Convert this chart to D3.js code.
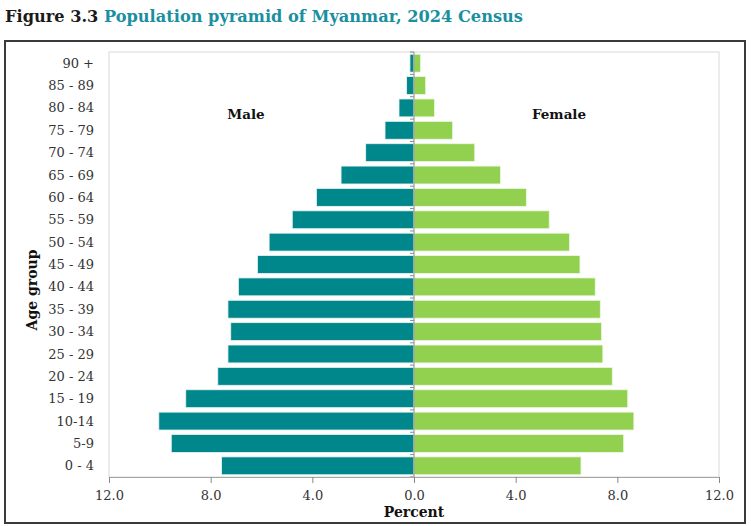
<!DOCTYPE html>
<html><head><meta charset="utf-8">
<script src="https://cdn.jsdelivr.net/npm/d3@7"></script>
<style>body{margin:0;background:#fff}svg{display:block}</style>
</head><body>
<script>
const ageGroups = ["0 - 4","5-9","10-14","15 - 19","20 - 24","25 - 29","30 - 34","35 - 39","40 - 44","45 - 49","50 - 54","55 - 59","60 - 64","65 - 69","70 - 74","75 - 79","80 - 84","85 - 89","90 +"];
const maleValues = [7.57,9.55,10.04,8.98,7.72,7.32,7.21,7.32,6.91,6.16,5.70,4.79,3.84,2.87,1.90,1.14,0.59,0.29,0.16];
const femaleValues = [6.57,8.25,8.65,8.41,7.80,7.43,7.38,7.33,7.13,6.53,6.12,5.32,4.42,3.40,2.39,1.52,0.81,0.46,0.26];
const xTicks = [-12,-8,-4,0,4,8,12];

const W=751,H=526;
const svg=d3.select("body").append("svg").attr("width",W).attr("height",H);
const serif="'DejaVu Serif', serif";

// title
const t=svg.append("text").attr("x",5).attr("y",22).attr("font-family",serif).attr("font-weight","bold").attr("font-size",16.2);
t.append("tspan").attr("fill","#1a1a1a").text("Figure 3.3 ");
t.append("tspan").attr("fill","#1a8fa0").text("Population pyramid of Myanmar, 2024 Census");

// frame
svg.append("rect").attr("x",5).attr("y",41).attr("width",740).attr("height",482).attr("fill","none").attr("stroke","#3a3a3a").attr("stroke-width",2);

const L=109,R=719,T=52,B=477;
const x=d3.scaleLinear().domain([-12,12]).range([L,R]);
const y=d3.scaleBand().domain(ageGroups.slice().reverse()).range([T,B]).paddingInner(0.2).paddingOuter(0.1);

// plot area border
svg.append("rect").attr("x",L).attr("y",T).attr("width",R-L).attr("height",B-T).attr("fill","none").attr("stroke","#d9d9d9");

const g=svg.append("g");
g.selectAll(".m").data(ageGroups).enter().append("rect")
 .attr("x",(d,i)=>x(-maleValues[i])).attr("y",d=>y(d))
 .attr("width",(d,i)=>x(0)-x(-maleValues[i])).attr("height",y.bandwidth())
 .attr("fill","#00878b").attr("stroke","#e8f4f4").attr("stroke-width",0.8);
g.selectAll(".f").data(ageGroups).enter().append("rect")
 .attr("x",x(0)).attr("y",d=>y(d))
 .attr("width",(d,i)=>x(femaleValues[i])-x(0)).attr("height",y.bandwidth())
 .attr("fill","#92d050").attr("stroke","#eef8e4").attr("stroke-width",0.8);

// center axis with ticks at band boundaries
const step=y.step();
const cx=x(0);
svg.append("line").attr("x1",cx).attr("x2",cx).attr("y1",T).attr("y2",B).attr("stroke","#8a8a8a").attr("stroke-width",1);
for(let k=0;k<=ageGroups.length;k++){
  const yy=T+k*step;
  svg.append("line").attr("x1",cx-4).attr("x2",cx).attr("y1",yy).attr("y2",yy).attr("stroke","#8a8a8a");
}

// y labels
svg.selectAll(".yl").data(ageGroups).enter().append("text")
 .attr("x",94).attr("y",d=>y(d)+y.bandwidth()/2).attr("dy","0.35em")
 .attr("text-anchor","end").attr("font-family",serif).attr("font-size",13).attr("fill","#333")
 .text(d=>d);

// x axis
const xa=svg.append("g").attr("transform",`translate(0,${B})`)
 .call(d3.axisBottom(x).tickValues(xTicks).tickSize(6).tickFormat(d=>Math.abs(d).toFixed(1)));
xa.select(".domain").attr("stroke","#a6a6a6");
xa.selectAll(".tick line").attr("stroke","#8a8a8a");
xa.selectAll("text").attr("font-family",serif).attr("font-size",13).attr("fill","#333").attr("dy","1.1em");

// axis titles
const bold=(sel)=>sel.attr("font-family",serif).attr("font-weight","bold").attr("fill","#111").attr("text-anchor","middle");
bold(svg.append("text").attr("x",cx).attr("y",517).attr("font-size",14)).text("Percent");
bold(svg.append("text").attr("transform","translate(37,290) rotate(-90)").attr("font-size",14)).text("Age group");
bold(svg.append("text").attr("x",246).attr("y",119).attr("font-size",13.5)).text("Male");
bold(svg.append("text").attr("x",559).attr("y",119).attr("font-size",13.5)).text("Female");
</script>
</body></html>
